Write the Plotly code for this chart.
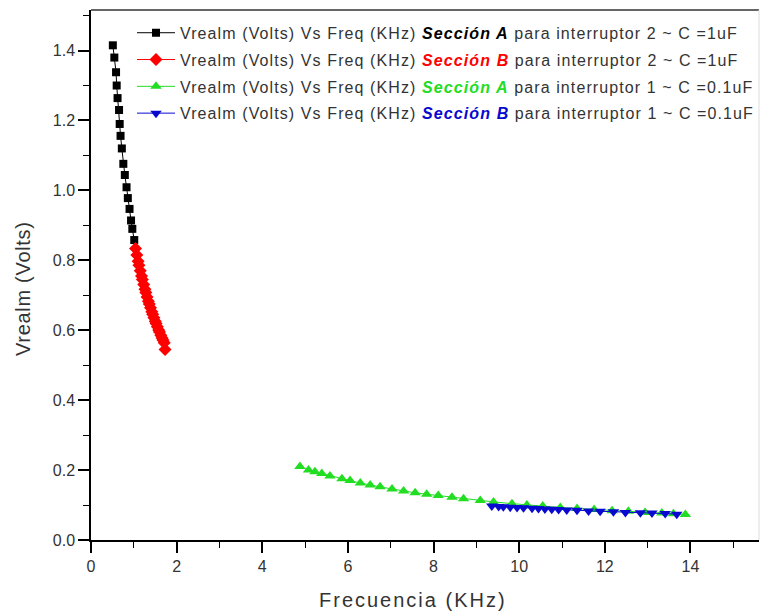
import plotly.graph_objects as go

# Sección A, interruptor 2 (C = 1uF)
freq_a2 = [0.51, 0.545, 0.585, 0.60, 0.62, 0.655, 0.67, 0.69, 0.72, 0.755, 0.79, 0.83, 0.86, 0.90, 0.935, 0.965, 1.01]
volt_a2 = [1.415, 1.38, 1.338, 1.30, 1.264, 1.23, 1.19, 1.156, 1.12, 1.076, 1.044, 1.009, 0.978, 0.947, 0.914, 0.89, 0.858]

# Sección B, interruptor 2 (C = 1uF)
freq_b2 = [1.04, 1.07, 1.10, 1.12, 1.15, 1.18, 1.20, 1.23, 1.26, 1.28, 1.31, 1.34, 1.36, 1.39, 1.42, 1.44, 1.47,
           1.50, 1.52, 1.55, 1.58, 1.60, 1.63, 1.66, 1.68, 1.71, 1.73]
volt_b2 = [0.834, 0.815, 0.797, 0.786, 0.770, 0.755, 0.745, 0.731, 0.717, 0.708, 0.695, 0.683, 0.675, 0.664, 0.653,
           0.646, 0.636, 0.626, 0.619, 0.610, 0.601, 0.595, 0.586, 0.578, 0.572, 0.564, 0.545]

# Sección A, interruptor 1 (C = 0.1uF)
freq_a1 = [4.88, 5.08, 5.23, 5.39, 5.58, 5.86, 6.05, 6.29, 6.52, 6.75, 7.03, 7.30, 7.57, 7.84, 8.11, 8.43, 8.70,
           9.09, 9.40, 9.83, 10.18, 10.55, 10.96, 11.35, 11.75, 12.17, 12.55, 12.94, 13.33, 13.60, 13.88]
volt_a1 = [0.210, 0.200, 0.195, 0.190, 0.183, 0.175, 0.170, 0.163, 0.157, 0.152, 0.146, 0.140, 0.135, 0.131, 0.127,
           0.122, 0.118, 0.113, 0.109, 0.104, 0.100, 0.097, 0.093, 0.090, 0.087, 0.084, 0.082, 0.079, 0.077, 0.075, 0.073]

# Sección B, interruptor 1 (C = 0.1uF)
freq_b1 = [9.36, 9.52, 9.63, 9.79, 9.95, 10.10, 10.30, 10.45, 10.60, 10.76, 10.92, 11.11, 11.35, 11.62, 11.89,
           12.20, 12.48, 12.83, 13.10, 13.41, 13.68]
volt_b1 = [0.097, 0.096, 0.095, 0.094, 0.093, 0.092, 0.091, 0.090, 0.089, 0.088, 0.087, 0.086, 0.085, 0.083, 0.082,
           0.081, 0.079, 0.078, 0.077, 0.076, 0.074]

x_ticks = [0, 2, 4, 6, 8, 10, 12, 14]
y_ticks = [0.0, 0.2, 0.4, 0.6, 0.8, 1.0, 1.2, 1.4]

SP = "letter-spacing:1.1px"
FONT = "Liberation Sans, Arial, sans-serif"


def label(section, color, switch, cap):
    return (f"<span style='{SP}'>Vrealm (Volts) Vs Freq (KHz) </span>"
            f"<b><i><span style='color:{color};{SP}'>Sección {section}</span></i></b>"
            f"<span style='{SP}'> para interruptor {switch} ~ C ={cap}</span>")


series = [
    (freq_a2, volt_a2, "A", "#000000", "2", "1uF", "square", 8),
    (freq_b2, volt_b2, "B", "#ff0000", "2", "1uF", "diamond", 10),
    (freq_a1, volt_a1, "A", "#22dd22", "1", "0.1uF", "triangle-up", 10),
    (freq_b1, volt_b1, "B", "#0808d0", "1", "0.1uF", "triangle-down", 10),
]

fig = go.Figure()
for i, (fx, vy, sec, col, sw, cap, sym, sz) in enumerate(series):
    fig.add_trace(go.Scatter(
        x=fx, y=vy, mode="lines+markers", name=label(sec, col, sw, cap),
        legendgroup=f"g{i}",
        line=dict(color=col, width=1),
        marker=dict(symbol=sym, size=sz, color=col, line=dict(width=0)),
    ))

axis_common = dict(
    showline=True, linecolor="#000000", linewidth=1.5, mirror=False,
    ticks="outside", ticklen=11, tickwidth=1.5, tickcolor="#000000",
    showgrid=False, zeroline=False,
    tickfont=dict(family=FONT, size=16, color="#333333"),
    minor=dict(ticks="outside", ticklen=6, tickwidth=1.2, tickcolor="#000000", showgrid=False),
)

fig.update_layout(
    width=766, height=615,
    margin=dict(l=91, r=7, t=10, b=75, autoexpand=False),
    paper_bgcolor="white", plot_bgcolor="white",
    font=dict(family=FONT, size=13, color="#333333"),
    showlegend=True,
    legend=dict(
        x=0.0614, y=0.989, xanchor="left", yanchor="top",
        bgcolor="rgba(0,0,0,0)", borderwidth=0,
        font=dict(family=FONT, size=16, color="#333333"),
        tracegroupgap=3, itemwidth=38,
    ),
    xaxis=dict(
        range=[0, 15.6], tickvals=x_ticks, ticktext=[str(v) for v in x_ticks],
        **axis_common,
    ),
    yaxis=dict(
        range=[0, 1.516], tickvals=y_ticks, ticktext=[f"{v:.1f}" for v in y_ticks],
        **axis_common,
    ),
    annotations=[
        dict(text="<span style='letter-spacing:2px'>Frecuencia (KHz)</span>",
             xref="paper", yref="paper", x=0.482, y=-0.1132,
             xanchor="center", yanchor="middle", showarrow=False,
             font=dict(family=FONT, size=20, color="#333333")),
        dict(text="<span style='letter-spacing:0.7px'>Vrealm (Volts)</span>",
             xref="paper", yref="paper", x=-0.1018, y=0.4755, textangle=-90,
             xanchor="center", yanchor="middle", showarrow=False,
             font=dict(family=FONT, size=20, color="#333333")),
    ],
    shapes=[
        dict(type="line", xref="paper", yref="paper", x0=0, x1=1, y0=1, y1=1,
             line=dict(color="#333333", width=1.5)),
        dict(type="line", xref="paper", yref="paper", x0=1, x1=1, y0=0, y1=1,
             line=dict(color="#dddddd", width=1)),
    ],
)
fig.update_xaxes(minor=dict(dtick=1, tick0=0))
fig.update_yaxes(minor=dict(dtick=0.1, tick0=0))

fig.write_html("out.html")
